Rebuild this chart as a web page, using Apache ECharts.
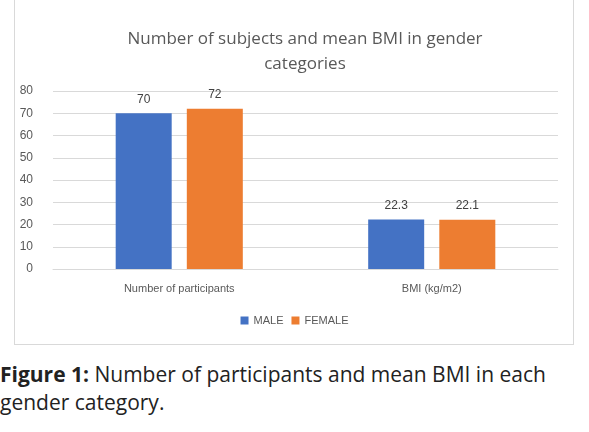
<!DOCTYPE html><html><head><meta charset="utf-8"><script src="https://cdn.jsdelivr.net/npm/echarts@6/dist/echarts.min.js"></script>
<style>body{margin:0;background:#fff;font-family:"Open Sans",sans-serif}#box{position:absolute;left:14px;top:0;width:560px;height:345px;border:1px solid #d9d9d9;border-top:none;box-sizing:border-box}#c{position:absolute;left:0;top:0;width:589px;height:345px}#cap{position:absolute;left:0;top:360px;width:589px;font-size:21px;line-height:28px;color:#222}</style></head><body>
<div id="box"></div><div id="c"></div>
<div id="cap"><b>Figure 1:</b> Number of participants and mean BMI in each gender category.</div>
<script>
const categories=["Number of participants","BMI (kg/m2)"];
const male=[70,22.3];
const female=[72,22.1];
const ch=echarts.init(document.getElementById('c'));
const lbl={show:true,position:'top',color:'#404040',fontSize:12,distance:8};
ch.setOption({
title:{text:'Number of subjects and mean BMI in gender\ncategories',left:300,textAlign:'center',top:22,textStyle:{fontSize:17,fontWeight:'normal',color:'#595959',lineHeight:25,fontFamily:'Open Sans'}},
legend:{bottom:14,left:'center',itemWidth:8,itemHeight:8,icon:'rect',textStyle:{color:'#595959',fontSize:11},data:['MALE','FEMALE']},
grid:{left:53,right:31,top:91,bottom:76},
xAxis:{type:'category',data:categories,axisLine:{lineStyle:{color:'#d9d9d9'}},axisTick:{show:false},axisLabel:{color:'#595959',fontSize:11,margin:14}},
yAxis:{type:'value',min:0,max:80,interval:10,axisLabel:{color:'#595959',fontSize:12,margin:20},splitLine:{lineStyle:{color:'#d9d9d9'}}},
series:[{name:'MALE',type:'bar',data:male,barWidth:56,barGap:'27%',itemStyle:{color:'#4472c4'},label:lbl},
{name:'FEMALE',type:'bar',data:female,barWidth:56,itemStyle:{color:'#ed7d31'},label:lbl}]
});
</script></body></html>
